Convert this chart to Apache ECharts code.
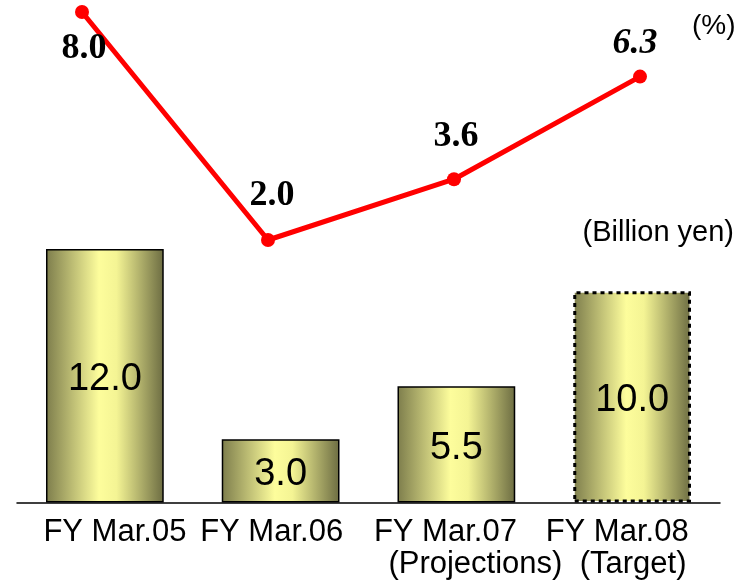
<!DOCTYPE html>
<html><head><meta charset="utf-8">
<script src="https://cdn.jsdelivr.net/npm/echarts@6/dist/echarts.min.js"></script>
<style>html,body{margin:0;padding:0;background:#fff}#c{width:753px;height:580px}</style>
</head><body><div id="c"></div>
<script>
var categories = ['FY Mar.05', 'FY Mar.06', 'FY Mar.07', 'FY Mar.08'];
var subLabels = ['', '', '(Projections)', '(Target)'];
var barValues = [12.0, 3.0, 5.5, 10.0];
var barLabels = ['12.0', '3.0', '5.5', '10.0'];
var lineValues = [8.0, 2.0, 3.6, 6.3];
var lineLabels = ['8.0', '2.0', '3.6', '6.3'];
var pctUnit = '(%)';
var barUnit = '(Billion yen)';

var grad = new echarts.graphic.LinearGradient(0, 0, 1, 0, [
  {offset: 0, color: '#7d7d4c'},
  {offset: 0.45, color: '#fdfd9c'},
  {offset: 0.6, color: '#f4f494'},
  {offset: 1, color: '#6c6c42'}
]);

var barData = barValues.map(function (v, i) {
  var d = {value: v};
  if (i === 3) {
    d.itemStyle = {borderType: [4, 4], borderWidth: 3, borderColor: '#000'};
  }
  return d;
});

var rich = {};
var offs = [20, -18, -22, -30];
var offs2 = [0, 0, 38, 2];
for (var i = 0; i < 4; i++) {
  rich['a' + i] = {fontSize: 31, fontFamily: 'Liberation Sans, Arial, sans-serif', color: '#000', lineHeight: 32,
    padding: offs[i] >= 0 ? [0, 0, 0, offs[i]] : [0, -offs[i], 0, 0]};
  rich['b' + i] = {fontSize: 31, fontFamily: 'Liberation Sans, Arial, sans-serif', color: '#000', lineHeight: 32,
    padding: [0, 0, 0, offs2[i]]};
}

var lineData = lineValues.map(function (v, i) {
  var pos = [[2, 37], [4, -44], [2, -42], [-5, -33]][i];
  return {
    value: v,
    label: {
      show: true, formatter: lineLabels[i], position: 'inside', offset: pos,
      fontStyle: i === 3 ? 'italic' : 'normal'
    }
  };
});

var chart = echarts.init(document.getElementById('c'), null, {renderer: 'canvas'});
chart.setOption({
  animation: false,
  backgroundColor: '#fff',
  grid: [
    {left: 17, right: 33, top: 249, bottom: 75},
    {left: 82, right: 113, top: 12, bottom: 264}
  ],
  xAxis: [
    {
      type: 'category', gridIndex: 0, data: categories,
      axisLine: {lineStyle: {color: '#000', width: 1.5}},
      axisTick: {show: false},
      axisLabel: {
        margin: 14, interval: 0,
        formatter: function (val, idx) {
          var s = '{a' + idx + '|' + val + '}';
          if (subLabels[idx]) s += '\n{b' + idx + '|' + subLabels[idx] + '}';
          return s;
        },
        rich: rich
      }
    },
    {
      type: 'category', gridIndex: 1, data: categories, boundaryGap: false,
      show: false
    }
  ],
  yAxis: [
    {
      type: 'value', gridIndex: 0, min: 0, max: 12, position: 'right', offset: 14,
      splitLine: {show: false}, axisLine: {show: false}, axisTick: {show: false},
      axisLabel: {show: false},
      name: barUnit, nameLocation: 'end', nameGap: 2,
      nameTextStyle: {fontSize: 29, fontFamily: 'Liberation Sans, Arial, sans-serif', color: '#000', align: 'right'}
    },
    {
      type: 'value', gridIndex: 1, min: 0, max: 8, position: 'right', offset: 0,
      splitLine: {show: false}, axisLine: {show: false}, axisTick: {show: false},
      axisLabel: {show: false},
      name: pctUnit, nameLocation: 'end', nameGap: -28,
      nameTextStyle: {fontSize: 28, fontFamily: 'Liberation Sans, Arial, sans-serif', color: '#000', align: 'left', padding: [0, 0, 0, 52]}
    }
  ],
  series: [
    {
      type: 'bar', xAxisIndex: 0, yAxisIndex: 0, data: barData, barWidth: '67%',
      itemStyle: {color: grad, borderColor: '#000', borderWidth: 1.5},
      label: {
        show: true, position: 'inside', offset: [0, 4],
        formatter: function (p) { return barLabels[p.dataIndex]; },
        fontSize: 38, fontFamily: 'Liberation Sans, Arial, sans-serif', color: '#000'
      }
    },
    {
      type: 'line', xAxisIndex: 1, yAxisIndex: 1, data: lineData,
      lineStyle: {color: '#ff0000', width: 5},
      itemStyle: {color: '#ff0000'},
      symbol: 'circle', symbolSize: 14,
      label: {
        fontSize: 36, fontWeight: 'bold', color: '#000',
        fontFamily: 'Liberation Serif, Times New Roman, serif'
      }
    }
  ]
});
</script>
</body></html>
